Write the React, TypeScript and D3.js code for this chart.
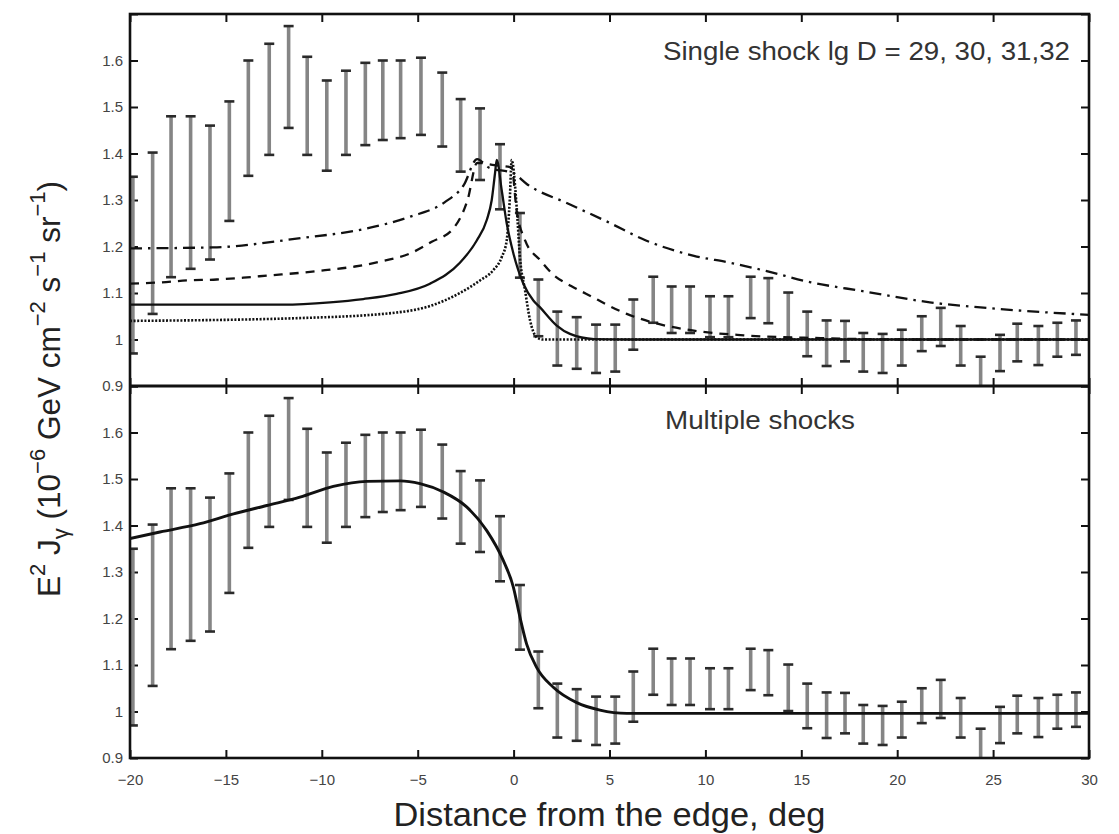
import { useEffect, useRef } from "react";
import * as d3 from "d3";

// measured bins: centre (deg), upper and lower end of the error bar
const binX = [-19.85, -18.82, -17.86, -16.84, -15.83, -14.82, -13.83, -12.74, -11.73, -10.76, -9.74, -8.74, -7.73, -6.82, -5.89, -4.83, -3.72, -2.76, -1.75, -0.71, 0.33, 1.29, 2.28, 3.29, 4.3, 5.3, 6.24, 7.28, 8.24, 9.2, 10.24, 11.2, 12.36, 13.28, 14.32, 15.31, 16.32, 17.28, 18.23, 19.24, 20.24, 21.28, 22.27, 23.31, 24.35, 25.36, 26.26, 27.36, 28.35, 29.32];
const binHi = [1.35, 1.402, 1.48, 1.48, 1.46, 1.512, 1.6, 1.636, 1.674, 1.608, 1.557, 1.578, 1.595, 1.6, 1.6, 1.606, 1.574, 1.517, 1.497, 1.42, 1.272, 1.129, 1.06, 1.048, 1.032, 1.032, 1.086, 1.135, 1.114, 1.114, 1.093, 1.093, 1.135, 1.132, 1.101, 1.06, 1.041, 1.04, 1.014, 1.012, 1.021, 1.05, 1.068, 1.029, 0.963, 1.01, 1.034, 1.029, 1.036, 1.041];
const binLo = [0.97, 1.055, 1.134, 1.152, 1.172, 1.255, 1.352, 1.397, 1.455, 1.397, 1.363, 1.397, 1.418, 1.429, 1.433, 1.44, 1.415, 1.361, 1.343, 1.28, 1.133, 1.007, 0.944, 0.937, 0.928, 0.931, 0.978, 1.036, 1.014, 1.014, 1.005, 1.005, 1.046, 1.035, 1.001, 0.964, 0.943, 0.953, 0.931, 0.928, 0.944, 0.975, 0.986, 0.944, 0.87, 0.932, 0.953, 0.945, 0.963, 0.967];

// single shock, lg D = 29 (dotted)
const d29X = [-20, -11.2, -6.1, -4.36, -2.8, -1.75, -1.06, -0.62, -0.36, -0.2, -0.1, 0.16, 0.33, 0.6, 0.86, 1.2, 1.5, 30];
const d29Y = [1.04, 1.046, 1.058, 1.072, 1.1, 1.127, 1.149, 1.177, 1.213, 1.3, 1.386, 1.285, 1.177, 1.105, 1.041, 1.005, 1.0, 1.0];
// lg D = 30 (solid)
const d30X = [-20, -12, -9.57, -7.84, -6.1, -4.36, -2.8, -1.92, -1.4, -1.14, -0.97, -0.88, -0.62, -0.36, -0.01, 0.51, 1.03, 1.38, 2.25, 2.94, 4.2, 6, 30];
const d30Y = [1.075, 1.075, 1.08, 1.087, 1.098, 1.12, 1.165, 1.213, 1.257, 1.3, 1.357, 1.386, 1.321, 1.25, 1.185, 1.12, 1.084, 1.069, 1.03, 1.012, 1.001, 1.0, 1.0];
// lg D = 31 (dashed)
const d31X = [-20, -18.35, -17.04, -15.48, -14.09, -12.7, -11.22, -9.83, -8.27, -6.79, -5.4, -4.27, -3.14, -2.4, -1.9, -1.0, -0.1, 0.15, 0.6, 1.4, 2.0, 3.0, 3.8, 5.9, 7.6, 9.4, 12, 16, 20, 30];
const d31Y = [1.12, 1.123, 1.127, 1.129, 1.133, 1.138, 1.143, 1.149, 1.157, 1.169, 1.185, 1.21, 1.239, 1.3, 1.38, 1.375, 1.37, 1.28, 1.213, 1.17, 1.142, 1.115, 1.098, 1.055, 1.033, 1.019, 1.009, 1.003, 1.0, 1.0];
// lg D = 32 (dash-dot)
const d32X = [-20, -15.7, -11.1, -8, -5.4, -3.6, -2.6, -1.9, -1.3, 0, 0.7, 2.8, 4.9, 6.9, 9.4, 11.3, 13.2, 15.5, 18.2, 21.7, 25.2, 30];
const d32Y = [1.196, 1.198, 1.218, 1.236, 1.264, 1.295, 1.332, 1.388, 1.37, 1.357, 1.334, 1.293, 1.253, 1.213, 1.18, 1.165, 1.147, 1.123, 1.104, 1.08, 1.066, 1.053];

// multiple shocks model
const multiX = [-20, -18.44, -16.35, -14.6, -12.87, -11.14, -9.4, -7.66, -5.92, -4.88, -3.66, -2.45, -1.4, -0.54, -0.01, 0.33, 0.68, 1.2, 2.07, 3.29, 4.5, 5.9, 30];
const multiY = [1.372, 1.386, 1.404, 1.425, 1.443, 1.461, 1.484, 1.495, 1.496, 1.49, 1.472, 1.44, 1.389, 1.325, 1.267, 1.203, 1.145, 1.095, 1.052, 1.019, 1.003, 0.996, 0.996];

const xTicks = [-20, -15, -10, -5, 0, 5, 10, 15, 20, 25, 30];
const yTicks = [0.9, 1.0, 1.1, 1.2, 1.3, 1.4, 1.5, 1.6, 1.7];

const FONT = "'Liberation Sans', Arial, Helvetica, sans-serif";

export default function App() {
  const ref = useRef<SVGSVGElement>(null);

  useEffect(() => {
    const svg = d3.select(ref.current);
    svg.selectAll("*").remove();

    const left = 130, right = 1089, top = 14, mid = 386, bottom = 758;
    const x = d3.scaleLinear().domain([-20, 30]).range([left, right]);

    const bins = binX.map((v, i) => ({ x: v, hi: binHi[i], lo: binLo[i] }));
    const zip = (xs: number[], ys: number[]) => xs.map((v, i) => [v, ys[i]] as [number, number]);

    const panels = [
      {
        y0: top, y1: mid,
        curves: [
          { pts: zip(d29X, d29Y), dash: "2,1.6", w: 2.6 },
          { pts: zip(d31X, d31Y), dash: "9,7", w: 2.3 },
          { pts: zip(d32X, d32Y), dash: "12,6,2.5,6", w: 2.3 },
          { pts: zip(d30X, d30Y), dash: null, w: 2.3 },
        ],
        label: "Single shock lg D = 29, 30, 31,32", lx: 663, ly: 60, lw: 407,
      },
      {
        y0: mid, y1: bottom,
        curves: [{ pts: zip(multiX, multiY), dash: null, w: 2.9 }],
        label: "Multiple shocks", lx: 665, ly: 429, lw: 190,
      },
    ];

    panels.forEach((p, pi) => {
      const y = d3.scaleLinear().domain([0.9, 1.7]).range([p.y1, p.y0]);
      const g = svg.append("g");
      const clipId = "clip" + pi;
      g.append("clipPath").attr("id", clipId)
        .append("rect").attr("x", left).attr("y", p.y0).attr("width", right - left).attr("height", p.y1 - p.y0);

      const fmtY = (d: number) => (d >= 1.65 ? "" : d3.format(".2~f")(d));

      // y axes (ticks pointing inward)
      const ya = g.append("g").attr("transform", `translate(${left},0)`)
        .call(d3.axisLeft(y).tickValues(yTicks).tickSize(-8).tickSizeOuter(0).tickPadding(7).tickFormat(fmtY as any));
      const yb = g.append("g").attr("transform", `translate(${right},0)`)
        .call(d3.axisRight(y).tickValues(yTicks).tickSize(-8).tickSizeOuter(0).tickFormat(() => ""));
      // x axes
      const xa = g.append("g").attr("transform", `translate(0,${p.y0})`)
        .call(d3.axisTop(x).tickValues(xTicks).tickSize(-8).tickSizeOuter(0).tickFormat(() => ""));
      const xb = g.append("g").attr("transform", `translate(0,${p.y1})`)
        .call(d3.axisBottom(x).tickValues(xTicks).tickSize(-8).tickSizeOuter(0).tickPadding(16)
          .tickFormat(pi === 1 ? (d3.format("") as any) : () => ""));
      [ya, yb, xa, xb].forEach((a) => {
        a.select(".domain").remove();
        a.selectAll("line").attr("stroke", "#111").attr("stroke-width", 2);
        a.selectAll("text").attr("font-family", FONT).attr("font-size", 15).attr("fill", "#444");
      });

      // error bars
      const eb = g.append("g").attr("clip-path", `url(#${clipId})`);
      eb.selectAll("line.bar").data(bins).join("line").attr("class", "bar")
        .attr("x1", (d) => x(d.x)).attr("x2", (d) => x(d.x))
        .attr("y1", (d) => y(d.hi)).attr("y2", (d) => y(d.lo))
        .attr("stroke", "#858585").attr("stroke-width", 3.6);
      (["hi", "lo"] as const).forEach((k) => {
        eb.selectAll("line.cap" + k).data(bins).join("line").attr("class", "cap" + k)
          .attr("x1", (d) => x(d.x) - 5).attr("x2", (d) => x(d.x) + 5)
          .attr("y1", (d) => y(d[k])).attr("y2", (d) => y(d[k]))
          .attr("stroke", "#2a2a2a").attr("stroke-width", 2.6);
      });

      // model curves
      const line = d3.line<[number, number]>()
        .x((d) => x(d[0])).y((d) => y(d[1]))
        .curve(d3.curveMonotoneX);
      const cg = g.append("g").attr("clip-path", `url(#${clipId})`);
      p.curves.forEach((c) => {
        cg.append("path").attr("d", line(c.pts)!)
          .attr("fill", "none").attr("stroke", "#111").attr("stroke-width", c.w)
          .attr("stroke-dasharray", c.dash ?? null);
      });

      g.append("text").attr("x", p.lx).attr("y", p.ly)
        .attr("font-family", FONT).attr("font-size", 26).attr("fill", "#333")
        .attr("textLength", p.lw).attr("lengthAdjust", "spacingAndGlyphs")
        .text(p.label);
    });

    // frame
    svg.append("rect").attr("x", left).attr("y", top).attr("width", right - left).attr("height", bottom - top)
      .attr("fill", "none").attr("stroke", "#111").attr("stroke-width", 2.6);
    svg.append("line").attr("x1", left).attr("x2", right).attr("y1", mid).attr("y2", mid)
      .attr("stroke", "#111").attr("stroke-width", 3);

    // x title
    svg.append("text").attr("x", (left + right) / 2).attr("y", 826).attr("text-anchor", "middle")
      .attr("font-family", FONT).attr("font-size", 33).attr("fill", "#222")
      .attr("textLength", 432).attr("lengthAdjust", "spacingAndGlyphs")
      .text("Distance from the edge, deg");

    // y title with super/subscripts
    const yt = svg.append("text").attr("transform", "translate(60,389) rotate(-90)")
      .attr("text-anchor", "middle").attr("font-family", FONT).attr("font-size", 31.5).attr("fill", "#222");
    const parts: [string, number][] = [
      ["E", 0], ["2", 1], [" J", 0], ["\u03b3", -1], [" (10", 0], ["\u22126", 1],
      [" GeV cm", 0], ["\u22122", 1], [" s", 0], ["\u22121", 1], [" sr", 0], ["\u22121", 1], [")", 0],
    ];
    let shift = 0;
    parts.forEach(([t, s]) => {
      const target = s === 1 ? -15 : s === -1 ? 8 : 0;
      yt.append("tspan").attr("dy", target - shift).attr("font-size", s === 0 ? 31.5 : 22).text(t);
      shift = target;
    });
  }, []);

  return (
    <svg ref={ref} width={1119} height={834}
      style={{ position: "absolute", left: 0, top: 0, background: "#fff" }} />
  );
}
